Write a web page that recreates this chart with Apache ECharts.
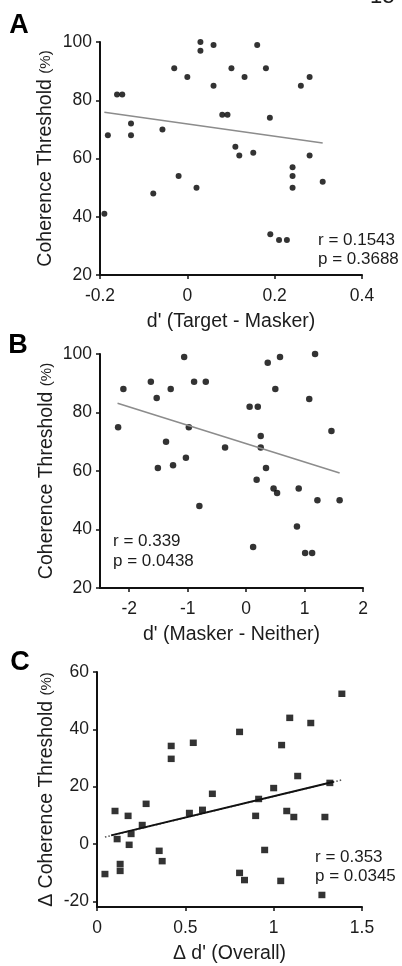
<!DOCTYPE html>
<html>
<head>
<meta charset="utf-8">
<script src="https://cdn.jsdelivr.net/npm/echarts@6/dist/echarts.min.js"></script>
<style>
html,body{margin:0;padding:0;background:#fff;}
#chart{width:402px;height:966px;}
</style>
</head>
<body>
<div id="chart"></div>
<script>
// Panel A: d' (Target - Masker) vs Coherence Threshold
var aX = [-0.182,-0.161,-0.149,-0.129,-0.129,-0.057,-0.03,0.0,0.03,0.03,0.06,0.06,0.08,0.092,0.101,0.11,0.119,0.131,0.151,0.16,0.18,0.189,0.241,0.26,0.28,0.28,-0.19,-0.078,-0.02,0.021,0.241,0.241,0.31,0.19,0.21,0.228];
var aY = [68,82,82,72,68,70,91,88,100,97,99,85,75,75,91,64,61,88,62,99,91,74,57,85,88,61,41,48,54,50,54,50,52,34,32,32];
var aLineX = [-0.19, 0.31];
var aLineY = [75.9, 65.3];
var aTicksX = [-0.2, 0, 0.2, 0.4];
var aTicksY = [20, 40, 60, 80, 100];

// Panel B: d' (Masker - Neither) vs Coherence Threshold
var bX = [-2.19,-2.10,-1.63,-1.53,-1.51,-1.37,-1.29,-1.25,-1.06,-1.03,-0.98,-0.89,-0.69,-0.36,0.06,0.2,0.18,0.25,0.25,0.34,0.37,0.58,0.5,0.47,0.53,0.9,1.08,1.18,1.46,-0.8,1.22,1.6,0.87,0.12,1.01,1.13];
var bY = [75,88,90.5,85,61,70,88,62,99,64.5,75,90.5,90.5,68,82,82,57,72,68,61,97,99,88,54,52.5,54,84.6,100,73.7,48,50,50,41,34,32,32];
var bLineX = [-2.2, 1.6];
var bLineY = [83.2, 59.3];
var bTicksX = [-2, -1, 0, 1, 2];
var bTicksY = [20, 40, 60, 80, 100];

// Panel C: Δ d' (Overall) vs Δ Coherence Threshold
var cX = [0.42,0.42,0.545,0.653,0.102,0.176,0.278,0.256,0.193,0.114,0.182,0.523,0.597,0.045,0.131,0.131,0.352,0.369,1.386,1.091,1.21,0.807,1.045,1.136,1.318,1.0,0.915,0.898,1.074,1.114,1.29,0.949,0.807,0.835,1.04,1.273];
var cY = [34.2,29.7,35.3,17.5,11.5,9.8,14,6.6,3.5,1.7,-0.3,10.8,11.9,-10.5,-7,-9.4,-2.4,-6,52.4,44,42.2,39.1,34.5,23.7,21.3,19.5,15.7,9.8,11.5,9.4,9.4,-2.1,-10.1,-12.6,-12.9,-17.8];
var cLineX = [0.08, 1.34];
var cLineY = [3.0, 21.7];
var cDotX = [0.045, 1.39];
var cDotY = [2.4, 22.4];
var cTicksX = [0, 0.5, 1, 1.5];
var cTicksY = [-20, 0, 20, 40, 60];

var FONT = "'Liberation Sans', Arial, sans-serif";
var TXT = '#1c1c1c';

function pairs(xs, ys){ return xs.map(function(x,i){ return [x, ys[i]]; }); }

function xAxisOf(idx, min, max, ticks, name){
  return {
    type:'value', gridIndex: idx, min:min, max:max,
    name: name, nameLocation:'middle', nameGap:37, nameMoveOverlap:false,
    nameTextStyle:{fontFamily:FONT, fontSize:19.5, color:TXT},
    axisLine:{show:true, onZero:false, lineStyle:{color:'#111', width:2}},
    axisTick:{show:true, length:4, customValues: ticks, lineStyle:{color:'#111', width:1.5}},
    axisLabel:{customValues: ticks, margin:12, fontFamily:FONT, fontSize:17.5, color:TXT,
      formatter:function(v){ return String(Math.round(v*100)/100); }},
    splitLine:{show:false}
  };
}
function yAxisOf(idx, min, max, ticks, name, gap){
  return {
    type:'value', gridIndex: idx, min:min, max:max,
    name: name, nameLocation:'middle', nameGap:gap, nameMoveOverlap:false,
    nameTextStyle:{fontFamily:FONT, color:TXT, rich:{
      a:{fontFamily:FONT, fontSize:19.5, color:TXT},
      b:{fontFamily:FONT, fontSize:15, color:TXT}
    }},
    axisLine:{show:true, onZero:false, lineStyle:{color:'#111', width:2}},
    axisTick:{show:true, length:4, customValues: ticks, lineStyle:{color:'#111', width:1.5}},
    axisLabel:{customValues: ticks, margin:8, fontFamily:FONT, fontSize:17.5, color:TXT},
    splitLine:{show:false}
  };
}

var chart = echarts.init(document.getElementById('chart'), null, {renderer:'canvas'});
chart.setOption({
  backgroundColor:'#fff',
  animation:false,
  grid:[
    {left:100, top:42, width:262, height:233},
    {left:100, top:354, width:263, height:234},
    {left:97, top:672, width:265, height:235}
  ],
  xAxis:[
    xAxisOf(0, -0.2, 0.4, aTicksX, "d' (Target - Masker)"),
    xAxisOf(1, -2.5, 2, bTicksX, "d' (Masker - Neither)"),
    xAxisOf(2, 0, 1.5, cTicksX, "\u0394 d' (Overall)")
  ],
  yAxis:[
    yAxisOf(0, 20, 100, aTicksY, '{a|Coherence Threshold }{b|(%)}', 44),
    yAxisOf(1, 20, 100, bTicksY, '{a|Coherence Threshold }{b|(%)}', 43),
    yAxisOf(2, -22, 60, cTicksY, '{a|\u0394 Coherence Threshold }{b|(%)}', 40)
  ],
  series:[
    {type:'line', xAxisIndex:0, yAxisIndex:0, data:pairs(aLineX,aLineY), symbol:'none',
      lineStyle:{color:'#8c8c8c', width:1.6}, silent:true},
    {type:'scatter', xAxisIndex:0, yAxisIndex:0, data:pairs(aX,aY), symbol:'circle', symbolSize:6,
      itemStyle:{color:'#000'}},
    {type:'line', xAxisIndex:1, yAxisIndex:1, data:pairs(bLineX,bLineY), symbol:'none',
      lineStyle:{color:'#8c8c8c', width:1.6}, silent:true},
    {type:'scatter', xAxisIndex:1, yAxisIndex:1, data:pairs(bX,bY), symbol:'circle', symbolSize:6.5,
      itemStyle:{color:'#000'}},
    {type:'line', xAxisIndex:2, yAxisIndex:2, data:pairs(cDotX,cDotY), symbol:'none',
      lineStyle:{color:'#555', width:1.5, type:[1.5,2]}, silent:true},
    {type:'line', xAxisIndex:2, yAxisIndex:2, data:pairs(cLineX,cLineY), symbol:'none',
      lineStyle:{color:'#111', width:2}, silent:true},
    {type:'scatter', xAxisIndex:2, yAxisIndex:2, data:pairs(cX,cY), symbol:'rect', symbolSize:[7,6.5],
      itemStyle:{color:'#000'}}
  ],
  graphic:[
    {type:'text', left:370, top:-14, style:{text:'13', font:'22px '+FONT, fill:TXT}},
    {type:'text', x:19, y:26, style:{text:'A', font:'bold 27px '+FONT, fill:'#000', align:'center', verticalAlign:'middle'}},
    {type:'text', x:18, y:346, style:{text:'B', font:'bold 27px '+FONT, fill:'#000', align:'center', verticalAlign:'middle'}},
    {type:'text', x:20, y:663, style:{text:'C', font:'bold 27px '+FONT, fill:'#000', align:'center', verticalAlign:'middle'}},
    {type:'text', x:318, y:240, style:{text:'r = 0.1543', font:'17px '+FONT, fill:TXT, align:'left', verticalAlign:'middle'}},
    {type:'text', x:318, y:259, style:{text:'p = 0.3688', font:'17px '+FONT, fill:TXT, align:'left', verticalAlign:'middle'}},
    {type:'text', x:113, y:541, style:{text:'r = 0.339', font:'17px '+FONT, fill:TXT, align:'left', verticalAlign:'middle'}},
    {type:'text', x:113, y:561, style:{text:'p = 0.0438', font:'17px '+FONT, fill:TXT, align:'left', verticalAlign:'middle'}},
    {type:'text', x:315, y:857, style:{text:'r = 0.353', font:'17px '+FONT, fill:TXT, align:'left', verticalAlign:'middle'}},
    {type:'text', x:315, y:876, style:{text:'p = 0.0345', font:'17px '+FONT, fill:TXT, align:'left', verticalAlign:'middle'}}
  ]
});
</script>
</body>
</html>
